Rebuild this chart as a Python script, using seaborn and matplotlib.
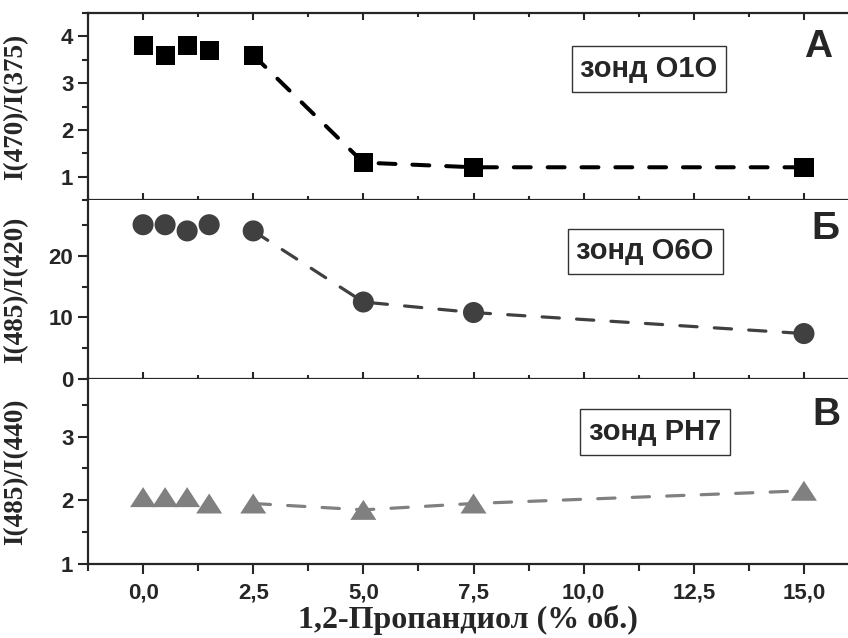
import pandas as pd
import seaborn as sns
import matplotlib.pyplot as plt
from matplotlib.ticker import MultipleLocator

# 1,2-propanediol concentration (% vol.)
conc = [0, 0.5, 1, 1.5, 2.5, 5, 7.5, 15]
# intensity ratios for the three probes
ratio_o1o = [3.8, 3.6, 3.8, 3.7, 3.6, 1.3, 1.2, 1.2]
ratio_o6o = [25, 25, 24, 25, 24, 12.5, 10.8, 7.4]
ratio_ph7 = [2.05, 2.05, 2.05, 1.95, 1.95, 1.85, 1.95, 2.15]

ylabels = ['I(470)/I(375)', 'I(485)/I(420)', 'I(485)/I(440)']
probes = ['зонд O1O', 'зонд O6O', 'зонд PH7']
letters = ['А', 'Б', 'В']
xtick_vals = [0, 2.5, 5, 7.5, 10, 12.5, 15]
xtick_labels = ['0,0', '2,5', '5,0', '7,5', '10,0', '12,5', '15,0']

sns.set_theme(style='ticks')
plt.rcParams['font.family'] = ['Liberation Sans', 'DejaVu Sans']

fig = plt.figure(figsize=(8.48, 6.38), dpi=100)

# panel positions (left, bottom, width, height) in figure fraction
left = 88 / 848
panels = [
    [left, 1 - 200 / 638, 1 - left, 187 / 638],
    [left, 1 - 379.3 / 638, 1 - left, 179.3 / 638],
    [left, 1 - 564 / 638, 1 - left, 184.7 / 638],
]

series = [ratio_o1o, ratio_o6o, ratio_ph7]
colors = ['#000000', '#404040', '#808080']
tri = [(-1.3, -1), (1.3, -1), (0, 1)]
markers = ['s', 'o', tri]
sizes = [190, 230, 350]
lws = [2.9, 2.3, 2.3]
dash = [(4.2, 4.2), (5.4, 5.4), (5.4, 5.4)]
ylims = [(0.5, 4.5), (0, 29), (1, 3.9)]
ymajor = [1, 10, 1]
yminor = [0.5, 5, 0.5]
box_pos = [(0.738, 0.70), (0.733, 0.713), (0.746, 0.715)]
letter_pos = [(0.96, 0.818), (0.97, 0.838), (0.971, 0.808)]

for i in range(3):
    ax = fig.add_axes(panels[i])
    df = pd.DataFrame({'conc': conc, 'val': series[i]})
    # dashed trend from 2.5 % onwards
    sns.lineplot(data=df[df.conc >= 2.5], x='conc', y='val', ax=ax,
                 color=colors[i], lw=lws[i], linestyle=(0, dash[i]),
                 dash_capstyle='round', zorder=2)
    sns.scatterplot(data=df, x='conc', y='val', ax=ax, marker=markers[i],
                    s=sizes[i], color=colors[i], edgecolor='none', zorder=3)

    ax.set_xlim(-1.25, 16.0)
    ax.set_ylim(*ylims[i])
    ax.set_xticks(xtick_vals)
    ax.xaxis.set_minor_locator(MultipleLocator(1.25))
    ax.yaxis.set_major_locator(MultipleLocator(ymajor[i]))
    ax.yaxis.set_minor_locator(MultipleLocator(yminor[i]))
    if i == 1:
        ax.set_yticks([0, 10, 20])

    for s in ['left', 'bottom', 'top']:
        ax.spines[s].set_linewidth(1.6)
    ax.spines['right'].set_visible(False)
    if i > 0:
        ax.spines['top'].set_visible(False)

    ax.tick_params(axis='y', which='major', direction='out', length=7.5,
                   width=1.5, labelsize=16, pad=3)
    ax.tick_params(axis='y', which='minor', direction='out', length=4.5, width=1.5)
    for lab in ax.get_yticklabels():
        lab.set_fontweight('bold')

    if i < 2:
        ax.tick_params(axis='x', which='major', direction='in', length=5,
                       width=1.5, labelbottom=False, top=(i == 0))
        ax.tick_params(axis='x', which='minor', direction='in', length=3,
                       width=1.5, top=(i == 0))
        ax.set_xlabel('')
    else:
        ax.set_xticklabels(xtick_labels, fontsize=16, fontweight='bold')
        ax.tick_params(axis='x', which='major', direction='out', length=7.5,
                       width=1.5, pad=6)
        ax.tick_params(axis='x', which='minor', direction='out', length=5, width=1.5)
        ax.set_xlabel('1,2-Пропандиол (% об.)', fontsize=23, fontweight='bold',
                      family='Liberation Serif', labelpad=1)

    ax.set_ylabel(ylabels[i], fontsize=19.5, fontweight='bold', family='Liberation Serif')
    ax.yaxis.set_label_coords(-0.078, 0.5)

    ax.text(box_pos[i][0], box_pos[i][1], probes[i], transform=ax.transAxes,
            ha='center', va='center', fontsize=21, fontweight='bold',
            bbox=dict(boxstyle='square,pad=0.3', fc='white', ec='#333333', lw=1))
    ax.text(letter_pos[i][0], letter_pos[i][1], letters[i], transform=ax.transAxes,
            ha='center', va='center', fontsize=28, fontweight='bold')

fig.savefig('out.png', dpi=100)
